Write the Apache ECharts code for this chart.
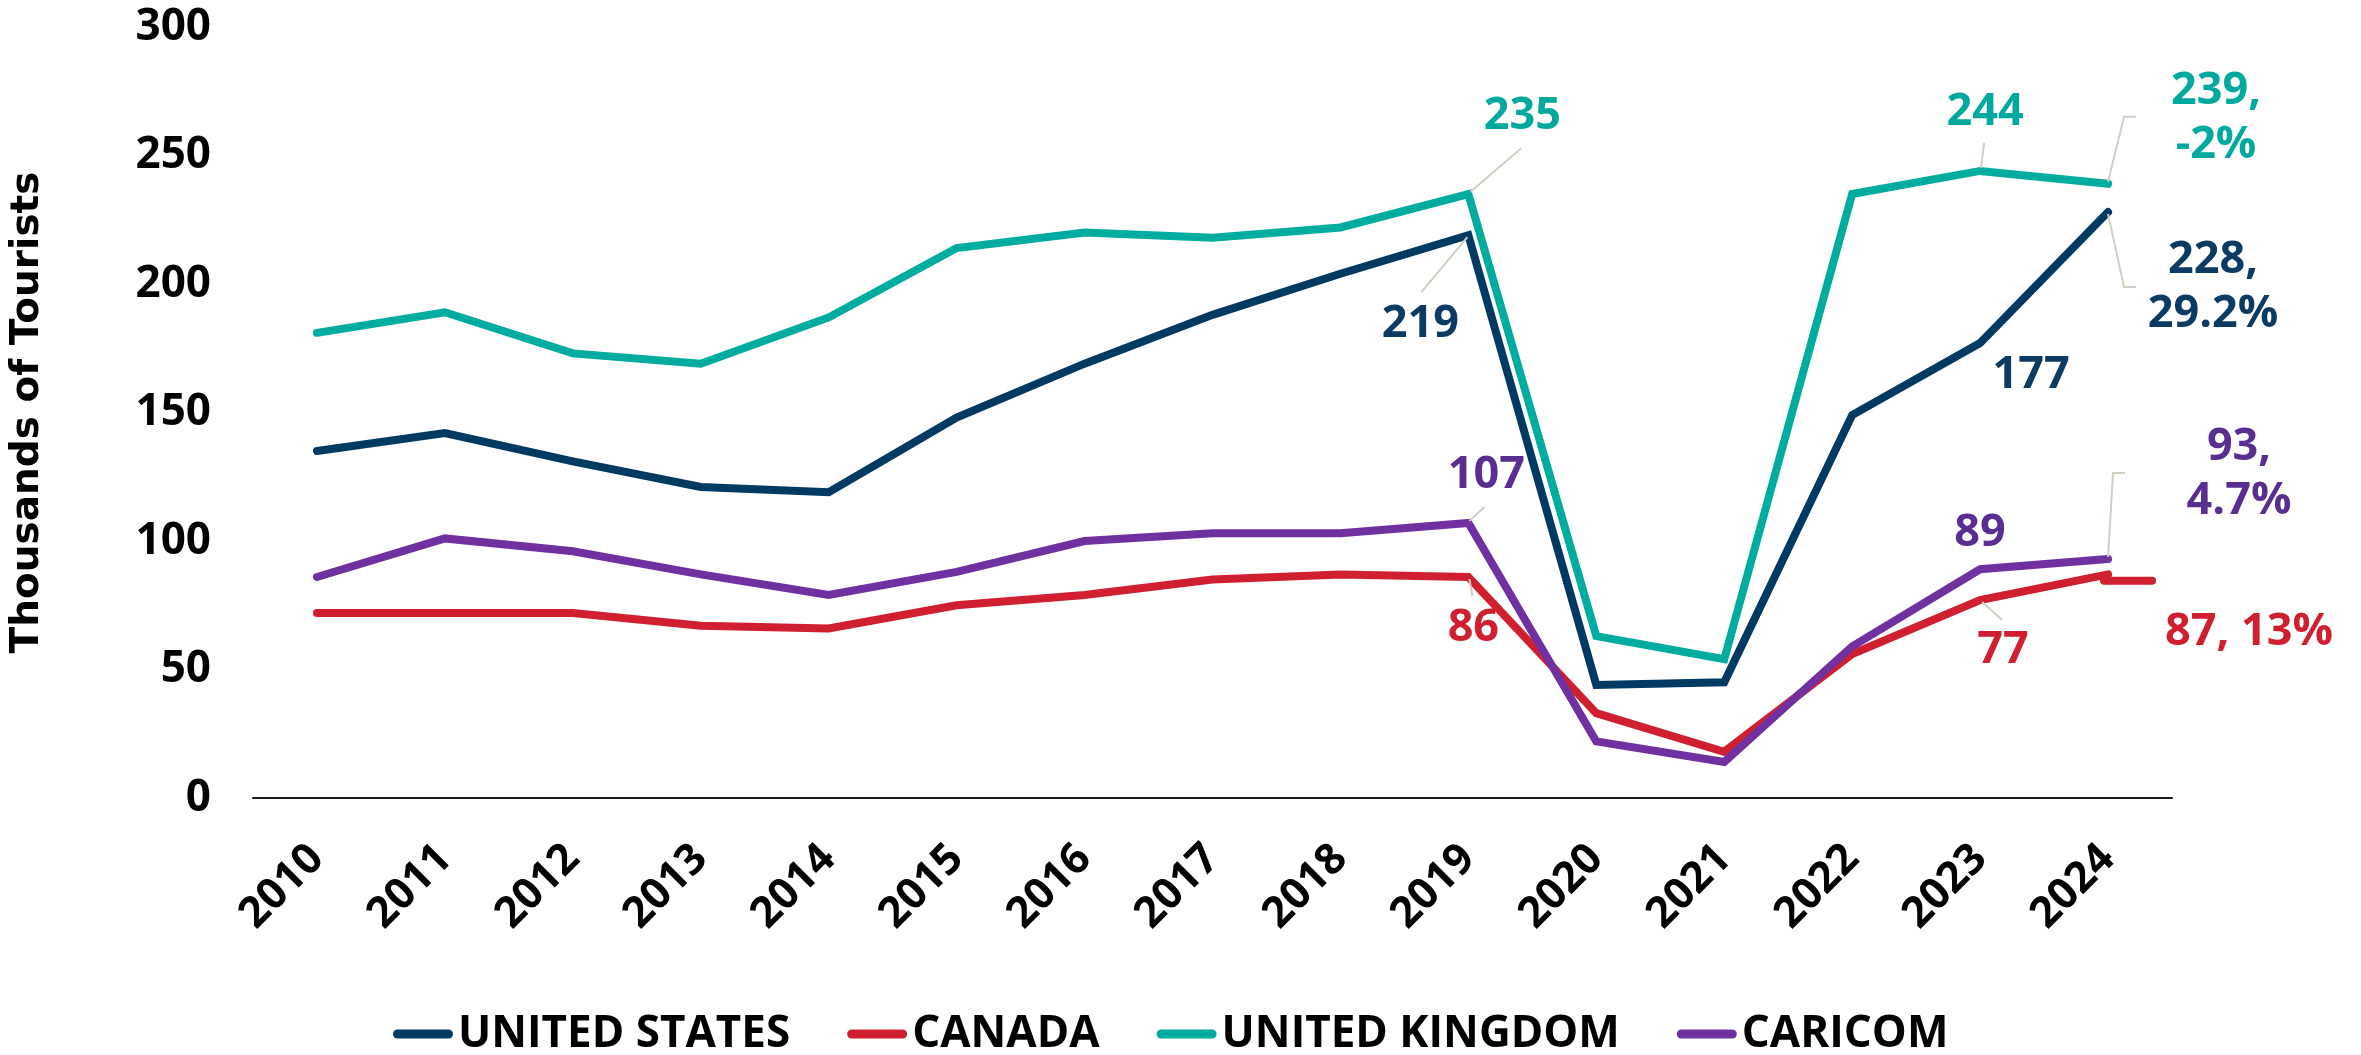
<!DOCTYPE html>
<html>
<head>
<meta charset="utf-8">
<script src="https://cdn.jsdelivr.net/npm/echarts@6/dist/echarts.min.js"></script>
<style>
html,body{margin:0;padding:0;background:#fff;}
#chart{width:2361px;height:1055px;}
</style>
</head>
<body>
<div id="chart"></div>
<script>
// ---- data ----
const years = ['2010','2011','2012','2013','2014','2015','2016','2017','2018','2019','2020','2021','2022','2023','2024'];
const unitedStates = [135, 142, 131, 121, 119, 148, 169, 188, 204, 219, 44, 45, 149, 177, 228];
const canada       = [72, 72, 72, 67, 66, 75, 79, 85, 87, 86, 33, 18, 56, 77, 87];
const unitedKingdom= [181, 189, 173, 169, 187, 214, 220, 218, 222, 235, 63, 54, 235, 244, 239];
const caricom      = [86, 101, 96, 87, 79, 88, 100, 103, 103, 107, 22, 14, 59, 89, 93];
const change2024   = { 'UNITED STATES': '29.2%', 'CANADA': '13%', 'UNITED KINGDOM': '-2%', 'CARICOM': '4.7%' };
const canadaStubValue = 84.5;
const yTicks = [0, 50, 100, 150, 200, 250, 300];

// ---- styling ----
const FONT = 'Open Sans';
const seriesDefs = [
  { name: 'UNITED STATES',  values: unitedStates,  line: '#003a63', text: '#0b3a63' },
  { name: 'CANADA',         values: canada,        line: '#d0202f', text: '#d0202f' },
  { name: 'UNITED KINGDOM', values: unitedKingdom, line: '#00aba0', text: '#00a99d' },
  { name: 'CARICOM',        values: caricom,       line: '#7030a0', text: '#5a2d91' }
];
// label placements (pixel offsets of label centre from its point) and leader lines
const labelSpecs = [
  { s: 'UNITED KINGDOM', y: '2019', off: [54, -78],  lead: [[2,-2],[53,-46]] },
  { s: 'UNITED STATES',  y: '2019', off: [-48, 89], lead: [[-1,2],[-47,57]] },
  { s: 'CARICOM',        y: '2019', off: [18, -48],  lead: [[1,-2],[16,-16]] },
  { s: 'CANADA',         y: '2019', off: [5, 51],    lead: [[1,2],[4,19]] },
  { s: 'UNITED KINGDOM', y: '2023', off: [5, -59],   lead: [[1,-3],[4,-28]] },
  { s: 'UNITED KINGDOM', y: '2024', off: [108, -66], lead: [[0,-2],[16,-67],[28,-67]], pct: 'multi' },
  { s: 'UNITED STATES',  y: '2024', off: [105, 75],  lead: [[0,2],[16,75],[28,75]], pct: 'multi' },
  { s: 'UNITED STATES',  y: '2023', off: [51, 32] },
  { s: 'CARICOM',        y: '2024', off: [131, -85], lead: [[0,-2],[5,-86],[17,-86]], pct: 'multi' },
  { s: 'CARICOM',        y: '2023', off: [0, -36] },
  { s: 'CANADA',         y: '2023', off: [23, 50],   lead: [[2,2],[22,20]] },
  { s: 'CANADA',         y: '2024', off: [141, 58],  pct: 'single' }
];

const chart = echarts.init(document.getElementById('chart'));

const series = seriesDefs.map(def => {
  const data = def.values.map((v, i) => {
    const spec = labelSpecs.find(l => l.s === def.name && l.y === years[i]);
    if (!spec) return v;
    let txt = String(v);
    if (spec.pct === 'multi') txt = v + ',\n' + change2024[def.name];
    if (spec.pct === 'single') txt = v + ', ' + change2024[def.name];
    return {
      value: v,
      label: {
        show: true, position: 'inside', offset: spec.off,
        formatter: txt, color: def.text, fontFamily: FONT, fontWeight: 'bold',
        fontSize: 45, lineHeight: 54, align: 'center', verticalAlign: 'middle'
      }
    };
  });
  const s = {
    name: def.name, type: 'line', data: data,
    symbol: 'circle', symbolSize: 0.1, showSymbol: true,
    itemStyle: { color: def.line },
    lineStyle: { width: 8, color: def.line, cap: 'round', join: 'miter' },
    label: { show: false },
    emphasis: { disabled: true },
    silent: true, animation: false, z: 3
  };
  if (def.name === 'CANADA') {
    s.markPoint = {
      silent: true, animation: false,
      label: { show: false },
      data: [{ coord: ['2024', canadaStubValue], symbol: 'path://M4,0 H52 A4,4 0 0 1 52,8 H4 A4,4 0 0 1 4,0 Z',
               symbolSize: [56, 8], symbolOffset: [20, 0], itemStyle: { color: def.line } }]
    };
  }
  return s;
});

chart.setOption({
  animation: false,
  backgroundColor: '#ffffff',
  grid: { left: 232, right: 189, top: 27, bottom: 257, containLabel: false },
  legend: {
    left: 393, top: 1012, padding: 0,
    itemWidth: 60, itemHeight: 9, itemGap: 57,
    icon: 'path://M4.5,0 H55.5 A4.5,4.5 0 0 1 55.5,9 H4.5 A4.5,4.5 0 0 1 4.5,0 Z',
    textStyle: { fontFamily: FONT, fontWeight: 'bold', fontSize: 44, color: '#000', lineHeight: 44 },
    data: seriesDefs.map(d => d.name)
  },
  xAxis: {
    type: 'category', data: years, boundaryGap: true,
    axisLine: { show: true, lineStyle: { color: '#1a1a1a', width: 2 } },
    axisTick: { show: false },
    axisLabel: { rotate: 45, margin: 54, interval: 0, align: 'right', verticalAlign: 'middle',
                 fontFamily: FONT, fontWeight: 'bold', fontSize: 43, color: '#000' },
    splitLine: { show: false }
  },
  yAxis: {
    type: 'value', min: yTicks[0], max: yTicks[yTicks.length - 1], interval: yTicks[1] - yTicks[0],
    name: 'Thousands of Tourists', nameLocation: 'middle', nameGap: 206, nameRotate: 90,
    nameTextStyle: { fontFamily: 'DejaVu Sans', fontWeight: 'bold', fontSize: 39, color: '#000' },
    axisLine: { show: false }, axisTick: { show: false }, splitLine: { show: false },
    axisLabel: { margin: 42, fontFamily: FONT, fontWeight: 'bold', fontSize: 44, color: '#000' }
  },
  series: series
});

// leader lines positioned through the chart's own scales
const graphics = [];
labelSpecs.forEach(spec => {
  if (!spec.lead) return;
  const def = seriesDefs.find(d => d.name === spec.s);
  const idx = years.indexOf(spec.y);
  const p = chart.convertToPixel({ xAxisIndex: 0, yAxisIndex: 0 }, [spec.y, def.values[idx]]);
  graphics.push({
    type: 'polyline', silent: true, z: 10,
    shape: { points: spec.lead.map(o => [p[0] + o[0], p[1] + o[1]]) },
    style: { stroke: '#cfcfc2', lineWidth: 2, fill: null }
  });
});
chart.setOption({ graphic: graphics });
</script>
</body>
</html>
